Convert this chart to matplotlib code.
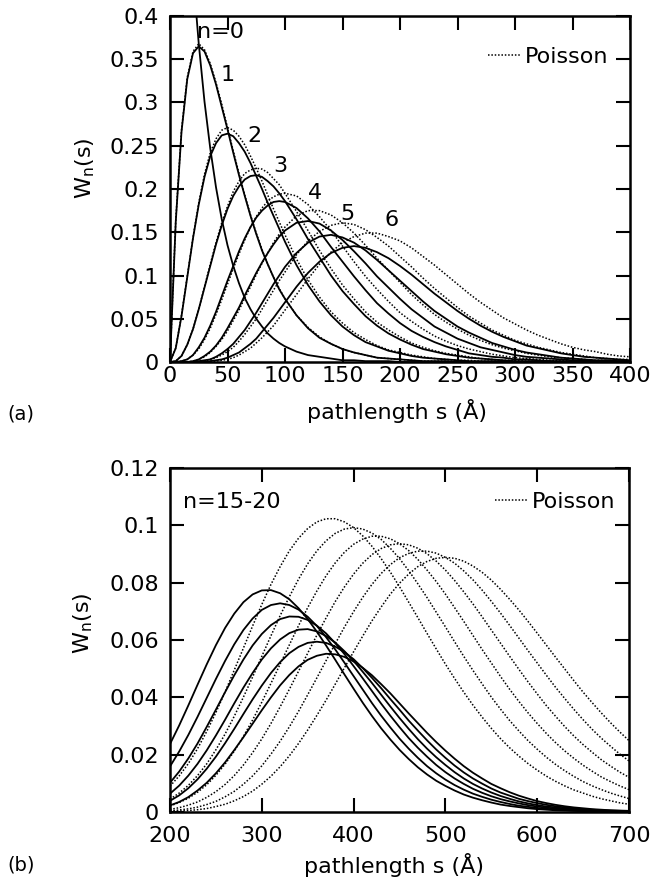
import numpy as np
import matplotlib
matplotlib.use('Agg')
import matplotlib.pyplot as plt
from matplotlib.lines import Line2D
from matplotlib.ticker import FuncFormatter

# path length samples (Angstrom)
s_top = [0, 5, 10, 15, 20, 25, 30, 35, 40, 45, 50, 55, 60, 65, 70, 75, 80, 85, 90, 95,
         100, 110, 120, 130, 140, 150, 160, 170, 180, 190, 200, 210, 220, 230, 240, 250, 260, 270, 280, 290,
         300, 310, 320, 330, 340, 350, 360, 370, 380, 390, 400]
s_bot = [200, 210, 220, 230, 240, 250, 260, 270, 280, 290, 300, 310, 320, 330, 340, 350, 360, 370, 380, 390,
         400, 410, 420, 430, 440, 450, 460, 470, 480, 490, 500, 510, 520, 530, 540, 550, 560, 570, 580, 590,
         600, 610, 620, 630, 640, 650, 660, 670, 680, 690, 700]

# panel (a), W_n(s) x 1000, solid curves n=0..7
TS0 = [1000, 819, 670, 549, 449, 368, 301, 247, 202, 165, 135, 111, 91, 74, 61, 50, 41, 33, 27, 22,
       18, 12, 8, 6, 4, 2, 2, 1, 1, 1, 0, 0, 0, 0, 0, 0, 0, 0, 0, 0, 0, 0, 0, 0, 0, 0, 0, 0, 0, 0, 0]
TS1 = [0, 162, 266, 327, 357, 365, 359, 343, 321, 295, 269, 242, 216, 192, 169, 148, 129, 113, 98, 84,
       73, 54, 39, 28, 21, 15, 11, 8, 5, 4, 3, 2, 1, 1, 1, 0, 0, 0, 0, 0, 0, 0, 0, 0, 0, 0, 0, 0, 0, 0, 0]
TS2 = [0, 16, 53, 98, 143, 182, 214, 238, 253, 262, 264, 261, 253, 243, 230, 215, 200, 184, 169, 154,
       139, 112, 89, 70, 54, 41, 31, 23, 18, 13, 10, 7, 5, 4, 3, 2, 1, 1, 1, 1, 0, 0, 0, 0, 0, 0, 0, 0, 0, 0, 0]
TS3 = [0, 1, 7, 20, 38, 61, 86, 111, 136, 158, 177, 192, 203, 211, 215, 216, 214, 209, 203, 195,
       186, 165, 142, 121, 100, 82, 67, 53, 42, 33, 26, 20, 15, 12, 9, 7, 5, 4, 3, 2, 1, 1, 1, 1, 0, 0, 0, 0, 0, 0, 0]
TS4 = [0, 0, 1, 3, 8, 17, 28, 42, 58, 76, 94, 111, 128, 143, 156, 167, 175, 181, 185, 186,
       185, 178, 166, 151, 133, 116, 99, 83, 68, 56, 45, 36, 29, 23, 18, 14, 10, 8, 6, 5, 3, 3, 2, 1, 1, 1, 1, 0, 0, 0, 0]
TS5 = [0, 0, 0, 0, 1, 3, 7, 12, 19, 28, 39, 51, 63, 77, 90, 103, 115, 126, 136, 145,
       152, 161, 163, 160, 152, 141, 128, 114, 99, 86, 73, 61, 51, 41, 34, 27, 22, 17, 14, 11, 8, 6, 5, 4, 3, 2, 2, 1, 1, 1, 1]
TS6 = [0, 0, 0, 0, 0, 1, 2, 3, 6, 10, 15, 21, 29, 37, 47, 57, 68, 79, 90, 100,
       110, 126, 138, 145, 147, 144, 138, 129, 118, 106, 94, 82, 70, 59, 50, 41, 34, 28, 22, 18, 14, 11, 9, 7, 5, 4, 3, 2, 2, 1, 1]
TS7 = [0, 0, 0, 0, 0, 0, 0, 1, 2, 3, 5, 8, 11, 16, 21, 27, 35, 43, 51, 60,
       69, 87, 103, 116, 126, 132, 134, 132, 127, 120, 111, 101, 90, 79, 69, 59, 50, 42, 35, 29, 24, 19, 16, 13, 10, 8, 6, 5, 4, 3, 2]

# panel (a), Poisson x 1000, n=1..7
TD1 = [0, 164, 268, 329, 359, 368, 361, 345, 323, 298, 271, 244, 218, 193, 170, 149, 130, 113, 98, 85,
       73, 54, 40, 29, 21, 15, 11, 8, 5, 4, 3, 2, 1, 1, 1, 0, 0, 0, 0, 0, 0, 0, 0, 0, 0, 0, 0, 0, 0, 0, 0]
TD2 = [0, 16, 54, 99, 144, 184, 217, 242, 258, 268, 271, 268, 261, 251, 238, 224, 209, 193, 177, 162,
       147, 119, 95, 75, 58, 45, 34, 26, 19, 14, 11, 8, 6, 4, 3, 2, 2, 1, 1, 1, 0, 0, 0, 0, 0, 0, 0, 0, 0, 0, 0]
TD3 = [0, 1, 7, 20, 38, 61, 87, 113, 138, 161, 180, 197, 209, 218, 222, 224, 223, 219, 212, 205,
       195, 174, 152, 129, 108, 89, 73, 58, 46, 37, 29, 22, 17, 13, 10, 8, 6, 4, 3, 2, 2, 1, 1, 1, 1, 0, 0, 0, 0, 0, 0]
TD4 = [0, 0, 1, 3, 8, 15, 26, 39, 55, 72, 90, 108, 125, 141, 156, 168, 178, 186, 191, 194,
       195, 192, 182, 168, 152, 134, 116, 99, 84, 70, 57, 47, 38, 30, 24, 19, 15, 12, 9, 7, 5, 4, 3, 2, 2, 1, 1, 1, 1, 0, 0]
TD5 = [0, 0, 0, 0, 1, 3, 6, 11, 18, 26, 36, 48, 60, 74, 87, 101, 114, 126, 138, 148,
       156, 169, 175, 175, 170, 161, 149, 135, 120, 106, 92, 78, 66, 55, 46, 38, 31, 25, 20, 16, 13, 10, 8, 6, 5, 4, 3, 2, 2, 1, 1]
TD6 = [0, 0, 0, 0, 0, 1, 1, 3, 5, 8, 12, 17, 24, 32, 41, 50, 61, 72, 83, 94,
       104, 124, 140, 151, 158, 161, 159, 153, 144, 134, 122, 110, 97, 85, 74, 63, 53, 45, 37, 31, 25, 21, 17, 14, 11, 9, 7, 5, 4, 3, 3]
TD7 = [0, 0, 0, 0, 0, 0, 0, 1, 1, 2, 3, 5, 8, 12, 16, 22, 28, 35, 42, 51,
       60, 78, 96, 113, 127, 138, 145, 149, 149, 145, 140, 132, 122, 112, 101, 90, 79, 69, 60, 51, 44, 37, 31, 26, 21, 17, 14, 12, 9, 7, 6]

# panel (b), W_n(s) x 10000, solid curves n=15..20
BS15 = [237, 302, 372, 444, 515, 582, 642, 692, 732, 759, 773, 774, 763, 742, 711, 673, 629, 581, 531, 480,
        430, 381, 335, 292, 253, 217, 185, 156, 131, 109, 91, 75, 61, 50, 41, 33, 26, 21, 17, 13,
        10, 8, 6, 5, 4, 3, 2, 2, 1, 1, 1]
BS16 = [159, 211, 269, 332, 398, 464, 527, 585, 635, 675, 705, 722, 728, 722, 706, 681, 649, 610, 567, 521,
        474, 427, 380, 336, 295, 256, 221, 189, 160, 135, 113, 94, 78, 64, 53, 43, 35, 28, 22, 18,
        14, 11, 9, 7, 5, 4, 3, 2, 2, 1, 1]
BS17 = [102, 141, 187, 239, 297, 357, 418, 477, 532, 581, 621, 652, 673, 682, 681, 670, 650, 623, 589, 551,
        509, 466, 422, 378, 336, 296, 258, 224, 193, 164, 139, 117, 98, 81, 67, 55, 45, 37, 30, 24,
        19, 15, 12, 9, 7, 6, 5, 4, 3, 2, 2]
BS18 = [64, 92, 127, 168, 215, 267, 322, 379, 434, 485, 532, 571, 602, 624, 636, 638, 630, 614, 591, 561,
        527, 489, 450, 409, 368, 328, 290, 254, 221, 191, 164, 139, 117, 98, 82, 68, 56, 46, 37, 30,
        24, 19, 16, 12, 10, 8, 6, 5, 4, 3, 2]
BS19 = [39, 58, 83, 114, 151, 193, 240, 290, 342, 393, 441, 485, 523, 554, 576, 590, 594, 590, 577, 558,
        533, 502, 468, 432, 394, 357, 319, 284, 250, 218, 189, 162, 138, 117, 99, 82, 68, 57, 46, 38,
        31, 25, 20, 16, 13, 10, 8, 6, 5, 4, 3]
BS20 = [23, 35, 52, 75, 102, 135, 173, 216, 261, 308, 355, 400, 442, 478, 508, 531, 545, 552, 550, 541,
        525, 503, 477, 446, 414, 379, 344, 310, 276, 244, 214, 186, 160, 137, 117, 98, 83, 69, 57, 47,
        38, 31, 25, 20, 16, 13, 10, 8, 6, 5, 4]

# panel (b), Poisson x 10000, n=15..20
BD15 = [90, 126, 169, 221, 281, 347, 419, 495, 572, 649, 724, 794, 856, 911, 955, 989, 1012, 1023, 1023, 1012,
        992, 963, 927, 884, 837, 786, 732, 678, 623, 569, 516, 466, 418, 373, 331, 292, 256, 224, 195, 169,
        146, 125, 107, 91, 77, 66, 55, 46, 39, 32, 27]
BD16 = [45, 66, 93, 127, 168, 217, 272, 334, 401, 471, 543, 615, 685, 751, 812, 866, 911, 946, 972, 987,
        992, 987, 973, 951, 920, 884, 842, 796, 748, 697, 646, 594, 543, 494, 447, 401, 359, 319, 283, 249,
        219, 191, 166, 144, 124, 106, 91, 78, 66, 56, 47]
BD17 = [21, 33, 48, 69, 95, 128, 167, 212, 264, 321, 383, 449, 516, 583, 650, 713, 771, 824, 869, 906,
        934, 952, 962, 962, 953, 936, 912, 881, 844, 804, 760, 713, 665, 616, 567, 520, 473, 428, 386, 346,
        309, 274, 242, 213, 187, 163, 142, 122, 106, 91, 78]
BD18 = [9, 15, 24, 35, 51, 71, 96, 127, 164, 207, 255, 309, 367, 428, 491, 554, 617, 677, 734, 785,
        830, 868, 898, 919, 932, 936, 932, 920, 901, 875, 844, 808, 768, 726, 681, 635, 589, 543, 498, 454,
        412, 371, 334, 298, 265, 235, 208, 182, 160, 139, 121]
BD19 = [4, 7, 11, 17, 26, 37, 53, 72, 97, 126, 161, 202, 247, 297, 351, 409, 468, 528, 587, 645,
        699, 749, 794, 832, 863, 887, 902, 910, 910, 903, 888, 868, 841, 810, 774, 735, 694, 651, 607, 563,
        520, 477, 435, 396, 358, 322, 288, 257, 229, 202, 178]
BD20 = [2, 3, 5, 8, 12, 19, 27, 39, 54, 73, 97, 125, 158, 196, 239, 286, 337, 390, 446, 503,
        559, 614, 667, 715, 760, 798, 830, 856, 874, 885, 888, 885, 875, 858, 836, 809, 777, 742, 705, 665,
        624, 582, 540, 499, 458, 418, 381, 345, 311, 279, 249]

curve_labels = ['n=0', '1', '2', '3', '4', '5', '6']

top_solid = [np.array(v) / 1000 for v in (TS0, TS1, TS2, TS3, TS4, TS5, TS6, TS7)]
top_dot = [np.array(v) / 1000 for v in (TD1, TD2, TD3, TD4, TD5, TD6, TD7)]
bot_solid = [np.array(v) / 10000 for v in (BS15, BS16, BS17, BS18, BS19, BS20)]
bot_dot = [np.array(v) / 10000 for v in (BD15, BD16, BD17, BD18, BD19, BD20)]

plt.rcParams['font.family'] = 'DejaVu Sans'
fig = plt.figure(figsize=(6.52, 8.82), dpi=100)
ax1 = fig.add_axes([170/652, 1-362/882, 460/652, 346/882])
ax2 = fig.add_axes([170/652, 1-812/882, 459/652, 344/882])

fmt = FuncFormatter(lambda v, p: '%g' % round(v, 4))
for ax in (ax1, ax2):
    for sp in ax.spines.values():
        sp.set_linewidth(1.8)
    ax.tick_params(direction='in', length=10, width=1.5, top=True, right=True, labelsize=16)
    ax.tick_params(axis='y', pad=8)
    ax.yaxis.set_major_formatter(fmt)

dotted = (0, (1, 1.2))

# (a)
for y in top_solid:
    ax1.plot(s_top, y, color='black', lw=1.3)
for y in top_dot:
    ax1.plot(s_top, y, color='black', lw=1.1, ls=dotted)
ax1.set_xlim(0, 400)
ax1.set_ylim(0, 0.4)
ax1.set_xticks(np.arange(0, 401, 50))
ax1.set_yticks(np.arange(0, 0.401, 0.05))
ax1.tick_params(axis='x', pad=3)

# (b)
for y in bot_solid:
    ax2.plot(s_bot, y, color='black', lw=1.3)
for y in bot_dot:
    ax2.plot(s_bot, y, color='black', lw=1.1, ls=dotted)
ax2.set_xlim(200, 700)
ax2.set_ylim(0, 0.12)
ax2.set_xticks(np.arange(200, 701, 100))
ax2.set_yticks(np.arange(0, 0.121, 0.02))
ax2.tick_params(axis='x', pad=10)

for ax, yc, xc in ((ax1, -0.1416, 0.493), (ax2, -0.154, 0.488)):
    ax.set_xlabel('pathlength s (Å)', fontsize=16, va='center')
    ax.xaxis.set_label_coords(xc, yc)
    ax.set_ylabel('W$_\\mathregular{n}$(s)', fontsize=16, va='center')

ax1.yaxis.set_label_coords(-0.185, 0.559)
ax2.yaxis.set_label_coords(-0.19, 0.549)

label_pos = [(43.5, 0.381), (50.4, 0.332), (73, 0.261), (96, 0.2266),
             (126, 0.195), (154, 0.1716), (193, 0.164)]
for t, (x, y) in zip(curve_labels, label_pos):
    ax1.text(x, y, t, fontsize=16, ha='center', va='center')
ax2.text(214, 0.1082, 'n=15-20', fontsize=16, ha='left', va='center')

h = Line2D([], [], color='black', lw=1.1, ls=dotted)
for ax, bx, by in ((ax1, 0.952, 0.882), (ax2, 0.9695, 0.902)):
    ax.legend([h], ['Poisson'], loc='center right', bbox_to_anchor=(bx, by), frameon=False,
              fontsize=16, handlelength=1.45, handletextpad=0.2, borderpad=0, borderaxespad=0)

fig.text(7/652, 1-414/882, '(a)', fontsize=14, va='center')
fig.text(7/652, 1-865/882, '(b)', fontsize=14, va='center')

fig.savefig('out.png', dpi=100)
